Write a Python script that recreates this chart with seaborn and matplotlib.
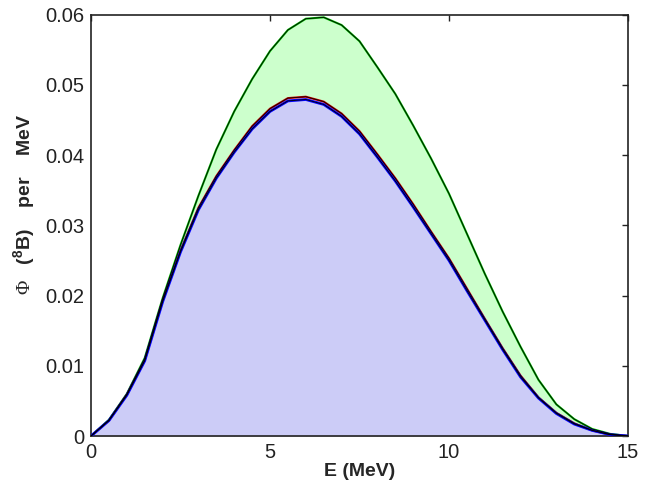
import numpy as np
import pandas as pd
import seaborn as sns
import matplotlib
matplotlib.use("Agg")
import matplotlib.pyplot as plt
import matplotlib.ticker as ticker

# --------------------------------------------------------------------------
# Data
# --------------------------------------------------------------------------
energy = [0.0, 0.5, 1.0, 1.5, 2.0, 2.5, 3.0, 3.5, 4.0, 4.5, 5.0, 5.5, 6.0, 6.5,
          7.0, 7.5, 8.0, 8.5, 9.0, 9.5, 10.0, 10.5, 11.0, 11.5, 12.0, 12.5,
          13.0, 13.5, 14.0, 14.5, 15.0]

flux_green = [0.0, 0.0023, 0.0060, 0.0111, 0.0196, 0.0272, 0.0342, 0.0408,
              0.0462, 0.0508, 0.0548, 0.0578, 0.0594, 0.0596, 0.0585, 0.0562,
              0.0525, 0.0487, 0.0442, 0.0395, 0.0345, 0.0288, 0.0231, 0.0177,
              0.0127, 0.0080, 0.0045, 0.0024, 0.0010, 0.0003, 0.0]

flux_red = [0.0, 0.0022, 0.0059, 0.0108, 0.0193, 0.0264, 0.0325, 0.0370,
            0.0407, 0.0441, 0.0466, 0.0481, 0.0483, 0.0476, 0.0459, 0.0434,
            0.0401, 0.0367, 0.0330, 0.0291, 0.0253, 0.0210, 0.0167, 0.0125,
            0.0086, 0.0055, 0.0033, 0.0018, 0.0008, 0.0002, 0.0]

flux_blue = [0.0, 0.0022, 0.0058, 0.0107, 0.0191, 0.0262, 0.0322, 0.0367,
             0.0404, 0.0437, 0.0462, 0.0477, 0.0479, 0.0472, 0.0455, 0.0430,
             0.0397, 0.0363, 0.0326, 0.0288, 0.0250, 0.0207, 0.0165, 0.0123,
             0.0084, 0.0054, 0.0032, 0.0017, 0.0008, 0.0002, 0.0]

SERIES = [
    # name, values, line colour, fill colour
    ("green", flux_green, (0.0, 0.75, 0.0), (0.80, 1.00, 0.80)),
    ("red",   flux_red,   (0.8, 0.0, 0.0), (1.00, 0.80, 0.80)),
    ("blue",  flux_blue,  (0.0, 0.0, 1.0), (0.80, 0.80, 0.97)),
]

# --------------------------------------------------------------------------
# Style
# --------------------------------------------------------------------------
sns.set_style("white")
plt.rcParams["font.family"] = ["Liberation Sans", "DejaVu Sans"]
plt.rcParams["mathtext.fontset"] = "custom"
plt.rcParams["mathtext.rm"] = "Liberation Serif"
plt.rcParams["mathtext.bf"] = "Liberation Sans:bold"

fig = plt.figure(figsize=(6.62, 4.92), dpi=100)
ax = fig.add_axes([0.1375, 0.1138, 0.8111, 0.8567])

# fills first, largest to smallest
for name, vals, lc, fc in SERIES:
    ax.fill_between(energy, 0, vals, color=fc, lw=0, zorder=1)

for name, vals, lc, fc in SERIES:
    df = pd.DataFrame({"E": energy, "flux": vals})
    lw = 2.0 if name == "blue" else 1.5
    sns.lineplot(data=df, x="E", y="flux", color=lc, lw=lw, ax=ax, zorder=3)
    sns.lineplot(data=df, x="E", y="flux", color="black", lw=0.6, ax=ax, zorder=4)

ax.set_xlim(0, 15)
ax.set_ylim(0, 0.06)
ax.xaxis.set_major_locator(ticker.MultipleLocator(5))
ax.xaxis.set_minor_locator(ticker.MultipleLocator(1))
ax.yaxis.set_major_locator(ticker.MultipleLocator(0.01))
ax.yaxis.set_major_formatter(ticker.FuncFormatter(lambda v, pos: "0" if v == 0 else f"{v:.2f}"))

ax.tick_params(axis="both", which="major", direction="in", length=4.5, width=1.0,
               labelsize=14.5, top=True, right=True, pad=5, colors="#222222")
ax.tick_params(axis="x", which="minor", direction="in", length=2, width=0.6,
               bottom=True, top=False)
for sp in ax.spines.values():
    sp.set_linewidth(1.2)
    sp.set_color("#222222")

ax.set_xlabel("E (MeV)", fontsize=14, fontweight="bold", labelpad=1)
ax.set_ylabel(r"$\mathrm{\Phi}$   ($\mathbf{^{8}}$B)    per    MeV", fontsize=14,
              fontweight="bold")
ax.yaxis.set_label_coords(-0.1, 0.55)

fig.savefig("out.png", dpi=100)
